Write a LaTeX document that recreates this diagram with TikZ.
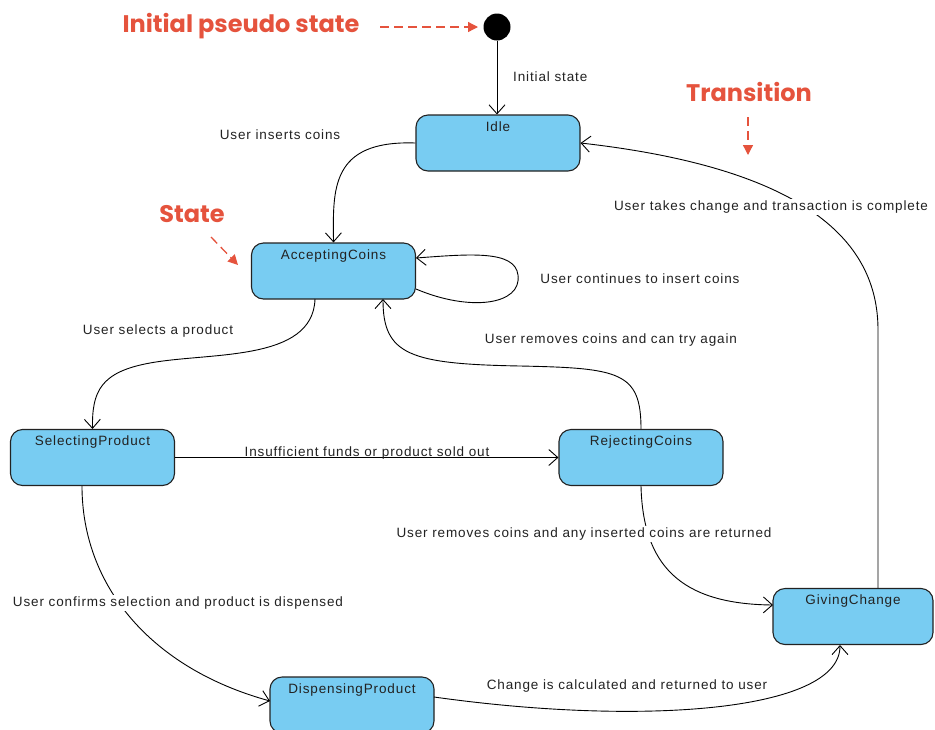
\documentclass[tikz,border=0pt]{standalone}
\usepackage{fontspec}
\setmainfont{Liberation Sans}[LetterSpace=6.5]
\newfontfamily\calloutfont{Poppins}
\usetikzlibrary{arrows.meta}
\definecolor{statefill}{HTML}{78CCF2}
\definecolor{callout}{HTML}{E5533D}
\definecolor{ink}{HTML}{222222}

\begin{document}
\begin{tikzpicture}[x=1pt,y=-1pt,
  state/.style={draw=ink, line width=1.1pt, fill=statefill, rounded corners=12pt,
    minimum width=164pt, minimum height=56pt, inner sep=0pt},
  statename/.style={anchor=north, inner sep=0pt, font=\fontsize{13.5}{15}\selectfont,
    text=ink, yshift=-7pt},
  trans/.style={draw=black, line width=0.9pt,
    -{Straight Barb[length=9pt,width=16pt,line width=0.9pt]}},
  tlabel/.style={font=\fontsize{13.5}{15}\selectfont, text=ink, inner sep=2pt},
  gaplabel/.style={tlabel, fill=white},
  callouttext/.style={font=\calloutfont\bfseries\fontsize{24}{28}\selectfont, text=callout},
  calloutarrow/.style={draw=callout, line width=1.3pt, dash pattern=on 9pt off 5pt,
    -{Triangle[length=10pt,width=10pt]}}
]
\useasboundingbox (0,0) rectangle (935,729);

% states
\node[circle, fill=black, minimum size=27pt, inner sep=0pt] (init) at (497,27) {};
\node[state] (idle) at (498,143) {};
\node[statename] (idlen) at (idle.north) {Idle};
\node[state] (acc) at (333.5,271) {};
\node[statename] (accn) at (acc.north) {AcceptingCoins};
\node[state] (sel) at (92.5,457.5) {};
\node[statename] (seln) at (sel.north) {SelectingProduct};
\node[state] (rej) at (641,457.5) {};
\node[statename] (rejn) at (rej.north) {RejectingCoins};
\node[state, minimum width=160pt] (give) at (853,616.5) {};
\node[statename] (given) at (give.north) {GivingChange};
\node[state] (disp) at (352,705) {};
\node[statename] (dispn) at (disp.north) {DispensingProduct};

% transitions
\draw[trans] (init.south) -- (idle.north -| init.south);
\node[tlabel, anchor=west] (l1) at (511,77) {Initial state};

\draw[trans] (idle.west) .. controls (330,140) and (333,190) .. (acc.north);
\node[tlabel] (l2) at (280,135) {User inserts coins};

\coordinate (loopa) at (416,289);
\coordinate (loopb) at (416,258);
\draw[trans] (loopa) .. controls (470,312) and (522,305) .. (518,275)
  .. controls (515,250) and (470,254) .. (loopb);
\node[tlabel] (l3) at (640,279) {User continues to insert coins};

\coordinate (accs) at (315,299);
\draw[trans] (accs) .. controls (313,362) and (210,352) .. (150,363)
  .. controls (100,372) and (92,392) .. (sel.north);
\node[tlabel] (l4) at (158,331) {User selects a product};

\draw[trans] (sel.east) -- (rej.west);
\node[tlabel] (l5) at (367,453) {Insufficient funds or product sold out};

\coordinate (accr) at (383,299);
\draw[trans] (rej.north) .. controls (641,372) and (620,368) .. (520,366)
  .. controls (410,364) and (383,355) .. (accr);
\node[tlabel] (l6) at (611,340) {User removes coins and can try again};

\coordinate (givew) at (773,605);
\draw[trans] (rej.south) .. controls (643,565) and (680,604) .. (givew);
\node[gaplabel] (l7) at (584,534) {User removes coins and any inserted coins are returned};

\coordinate (sels) at (82,486);
\coordinate (dispw) at (270,701);
\draw[trans] (sels) .. controls (82,585) and (150,668) .. (dispw);
\node[gaplabel] (l8) at (178,603) {User confirms selection and product is dispensed};

\coordinate (dispe) at (434,697);
\coordinate (gives) at (840,645);
\draw[trans] (dispe) .. controls (640,726) and (840,712) .. (gives);
\node[tlabel] (l9) at (627,686) {Change is calculated and returned to user};

\coordinate (givet) at (878,588);
\draw[trans] (givet) -- (878,330) .. controls (878,250) and (820,170) .. (idle.east);
\node[gaplabel] (l10) at (771,207) {User takes change and transaction is complete};

% annotations
\node[callouttext] (cinit) at (241,26) {Initial pseudo state};
\coordinate (cia) at (380,27);
\coordinate (cib) at (478,27);
\draw[calloutarrow] (cia) -- (cib);

\node[callouttext] (ctrans) at (749,92) {Transition};
\coordinate (cta) at (748,117);
\coordinate (ctb) at (748,155);
\draw[calloutarrow] (cta) -- (ctb);

\node[callouttext] (cstate) at (192,214) {State};
\coordinate (csa) at (211,237);
\coordinate (csb) at (238,265);
\draw[calloutarrow] (csa) -- (csb);
\end{tikzpicture}
\end{document}
